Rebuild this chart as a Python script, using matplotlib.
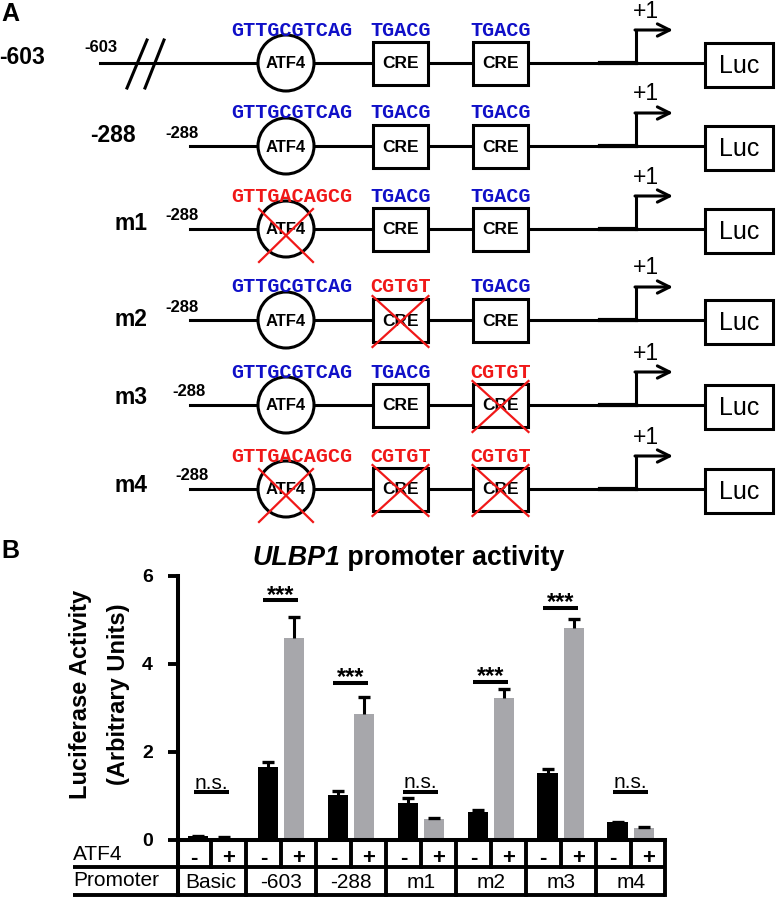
import numpy as np
import matplotlib.pyplot as plt
from matplotlib.patches import Circle, Rectangle
from matplotlib.transforms import blended_transform_factory

plt.rcParams['font.family'] = ['Liberation Sans', 'DejaVu Sans']

# Panel A: promoter constructs
construct_names = ['-603', '-288', 'm1', 'm2', 'm3', 'm4']
start_labels = ['-603', '-288', '-288', '-288', '-288', '-288']
atf4_seqs = ['GTTGCGTCAG', 'GTTGCGTCAG', 'GTTGACAGCG', 'GTTGCGTCAG', 'GTTGCGTCAG', 'GTTGACAGCG']
cre1_seqs = ['TGACG', 'TGACG', 'TGACG', 'CGTGT', 'TGACG', 'CGTGT']
cre2_seqs = ['TGACG', 'TGACG', 'TGACG', 'TGACG', 'CGTGT', 'CGTGT']
atf4_mut = [False, False, True, False, False, True]
cre1_mut = [False, False, False, True, False, True]
cre2_mut = [False, False, False, False, True, True]

# Panel B: luciferase activity
groups = ['Basic', '-603', '-288', 'm1', 'm2', 'm3', 'm4']
atf4_states = ['-', '+']
minus_mean = [0.08, 1.66, 1.02, 0.84, 0.64, 1.52, 0.40]
minus_err = [0.01, 0.11, 0.10, 0.11, 0.04, 0.09, 0.02]
plus_mean = [0.05, 4.59, 2.86, 0.48, 3.22, 4.82, 0.27]
plus_err = [0.01, 0.48, 0.40, 0.02, 0.22, 0.20, 0.02]
sig_labels = ['n.s.', '***', '***', 'n.s.', '***', '***', 'n.s.']
sig_height = [1.09, 5.45, 3.57, 1.10, 3.60, 5.27, 1.10]

W, H = 776, 898
fig = plt.figure(figsize=(W / 100, H / 100), dpi=100)
dg = fig.add_axes([0, 0, 1, 1])
dg.set_xlim(0, W)
dg.set_ylim(H, 0)
dg.axis('off')

BLUE = '#1010c8'
RED = '#f01818'
LW = 2.2

# layout of panel A (pixels)
row_y = [63, 146, 229, 320, 405, 489]
name_xy = [(22, 58), (113, 135), (131, 224), (131, 320), (131, 398), (131, 485)]
small_xy = [(101, 47), (182, 134), (182, 216), (182, 307), (189, 392), (192, 475)]
line_x0 = [100, 190, 190, 190, 190, 190]
circ_x, circ_r = 286, 28
cre_x = [373, 473]
cre_w = 55
luc_x, luc_w = 705, 68
tss_x = 636


def red_cross(cx, cy, hw, top, bot):
    dg.plot([cx - hw, cx + hw], [cy + top, cy + bot], color=RED, lw=1.6, zorder=6)
    dg.plot([cx - hw, cx + hw], [cy + bot, cy + top], color=RED, lw=1.6, zorder=6)


dg.text(10, 14, 'A', fontsize=18, fontweight='bold', ha='center', va='center')
for i, y in enumerate(row_y):
    dg.text(*name_xy[i], construct_names[i], fontsize=16.5, fontweight='bold',
            ha='center', va='center')
    dg.text(*small_xy[i], start_labels[i], fontsize=12, fontweight='bold',
            ha='center', va='center')
    dg.plot([line_x0[i], luc_x], [y, y], color='black', lw=LW, zorder=1)
    dg.plot([600, tss_x], [y, y], color='black', lw=3.0, zorder=1)
    if i == 0:
        dg.plot([127, 147], [88, 40], color='black', lw=LW)
        dg.plot([145, 164], [88, 40], color='black', lw=LW)

    dg.add_patch(Circle((circ_x, y), circ_r, facecolor='white', edgecolor='black',
                        lw=LW, zorder=3))
    dg.text(circ_x, y + 1, 'ATF4', fontsize=12, fontweight='bold',
            ha='center', va='center', zorder=4)
    dg.text(circ_x + 6, y - 33, atf4_seqs[i], family='Liberation Mono', fontsize=14.5,
            fontweight='bold', color=RED if atf4_mut[i] else BLUE,
            ha='center', va='center')
    if atf4_mut[i]:
        red_cross(circ_x, y, 27, -20, 33)

    for j, (seq, mut) in enumerate([(cre1_seqs[i], cre1_mut[i]), (cre2_seqs[i], cre2_mut[i])]):
        x0 = cre_x[j]
        dg.add_patch(Rectangle((x0, y - 21), cre_w, 43, facecolor='white',
                               edgecolor='black', lw=LW, zorder=3))
        dg.text(x0 + cre_w / 2, y + 1, 'CRE', fontsize=12.5, fontweight='bold',
                ha='center', va='center', zorder=4)
        dg.text(x0 + cre_w / 2, y - 33, seq, family='Liberation Mono', fontsize=14.5,
                fontweight='bold', color=RED if mut else BLUE,
                ha='center', va='center')
        if mut:
            red_cross(x0 + cre_w / 2, y, 28, -24, 27)

    dg.add_patch(Rectangle((luc_x, y - 20), luc_w, 44, facecolor='white',
                           edgecolor='black', lw=LW, zorder=3))
    dg.text(luc_x + luc_w / 2, y + 3, 'Luc', fontsize=18, ha='center', va='center', zorder=4)

    dg.plot([tss_x, tss_x], [y, y - 33], color='black', lw=LW,
            solid_capstyle='projecting', zorder=2)
    dg.annotate('', xy=(673, y - 33), xytext=(tss_x - 1, y - 33),
                arrowprops=dict(arrowstyle='->', lw=LW, mutation_scale=22,
                                shrinkA=0, shrinkB=0, color='black'))
    dg.text(646, y - 52, '+1', fontsize=16.5, ha='center', va='center')

# Panel B: bar chart
ax_l, ax_r, ax_t, ax_b = 178, 665, 576, 840
ax = fig.add_axes([ax_l / W, (H - ax_b) / H, (ax_r - ax_l) / W, (ax_b - ax_t) / H])
ax.patch.set_alpha(0)
x = np.arange(len(groups))
bw, off = 0.29, 0.188
for xs, mean, err, col in [(x - off, minus_mean, minus_err, 'black'),
                           (x + off, plus_mean, plus_err, '#a7a7ab')]:
    ax.bar(xs, mean, bw, color=col, zorder=2)
    top = np.array(mean) + np.array(err)
    ax.vlines(xs, mean, top, color='black', lw=2.2, zorder=3)
    ax.plot(xs, top, ls='none', marker='_', ms=9, mew=2.4, color='black', zorder=3)
ax.set_xlim(-0.472, 6.49)
ax.set_ylim(0, 6)
ax.set_yticks([0, 2, 4, 6])
ax.set_xticks([])
for lab in ax.get_yticklabels():
    lab.set_fontweight('bold')
ax.tick_params(axis='y', labelsize=14, length=7.5, width=2.8, pad=10.5)
for side in ['top', 'right']:
    ax.spines[side].set_visible(False)
for side in ['left', 'bottom']:
    ax.spines[side].set_linewidth(2.9)

for g, lab, h in zip(x, sig_labels, sig_height):
    ax.plot([g - 0.25, g + 0.25], [h, h], color='black', lw=2.9, clip_on=False,
            solid_capstyle='butt')
    if lab == '***':
        ax.annotate(lab, (g, h), xytext=(0, -1.0), textcoords='offset points',
                    ha='center', va='baseline', fontsize=17, fontweight='bold')
    else:
        ax.annotate(lab, (g, h), xytext=(0, 2.5), textcoords='offset points',
                    ha='center', va='baseline', fontsize=15)

fig.text(81 / W, 1 - 694 / H, 'Luciferase Activity', rotation=90, fontsize=17,
         fontweight='bold', ha='center', va='center')
fig.text(118 / W, 1 - 694 / H, '(Arbitrary Units)', rotation=90, fontsize=17,
         fontweight='bold', ha='center', va='center')
t1 = dg.text(252, 565, 'ULBP1', fontsize=19.3, fontweight='bold', style='italic',
             ha='left', va='baseline')
dg.annotate(' promoter activity', xy=(1, 0), xycoords=t1, fontsize=19.3,
            fontweight='bold', ha='left', va='bottom')
dg.text(10, 551, 'B', fontsize=18, fontweight='bold', ha='center', va='center')

# table under the bars
tb = blended_transform_factory(ax.transData, dg.transData)
row_mid, row_bot = 867, 895
dg.plot([73, ax_r], [row_mid, row_mid], color='black', lw=2.8, solid_capstyle='butt')
dg.plot([73, ax_r], [row_bot, row_bot], color='black', lw=2.8, solid_capstyle='butt')
dg.plot([ax_l, ax_l], [ax_b, row_bot], color='black', lw=2.9)
dg.plot([ax_r, ax_r], [ax_b, row_bot], color='black', lw=2.8)
dg.text(73, 855, 'ATF4', fontsize=15, ha='left', va='center')
dg.text(73, 881, 'Promoter', fontsize=15, ha='left', va='center')
for g in x:
    ax.plot([g, g], [ax_b, row_mid], transform=tb, color='black', lw=2.8, clip_on=False)
    if g < len(groups) - 1:
        ax.plot([g + 0.5, g + 0.5], [ax_b, row_bot], transform=tb, color='black',
                lw=2.8, clip_on=False)
    for k, s in enumerate(atf4_states):
        ax.text(g + (k - 0.5) * 0.5, 858, s, transform=tb, fontsize=16,
                fontweight='bold', ha='center', va='center')
    ax.text(g, 882, groups[g], transform=tb, fontsize=15, ha='center', va='center')

fig.savefig('out.png', dpi=100, facecolor='white')
